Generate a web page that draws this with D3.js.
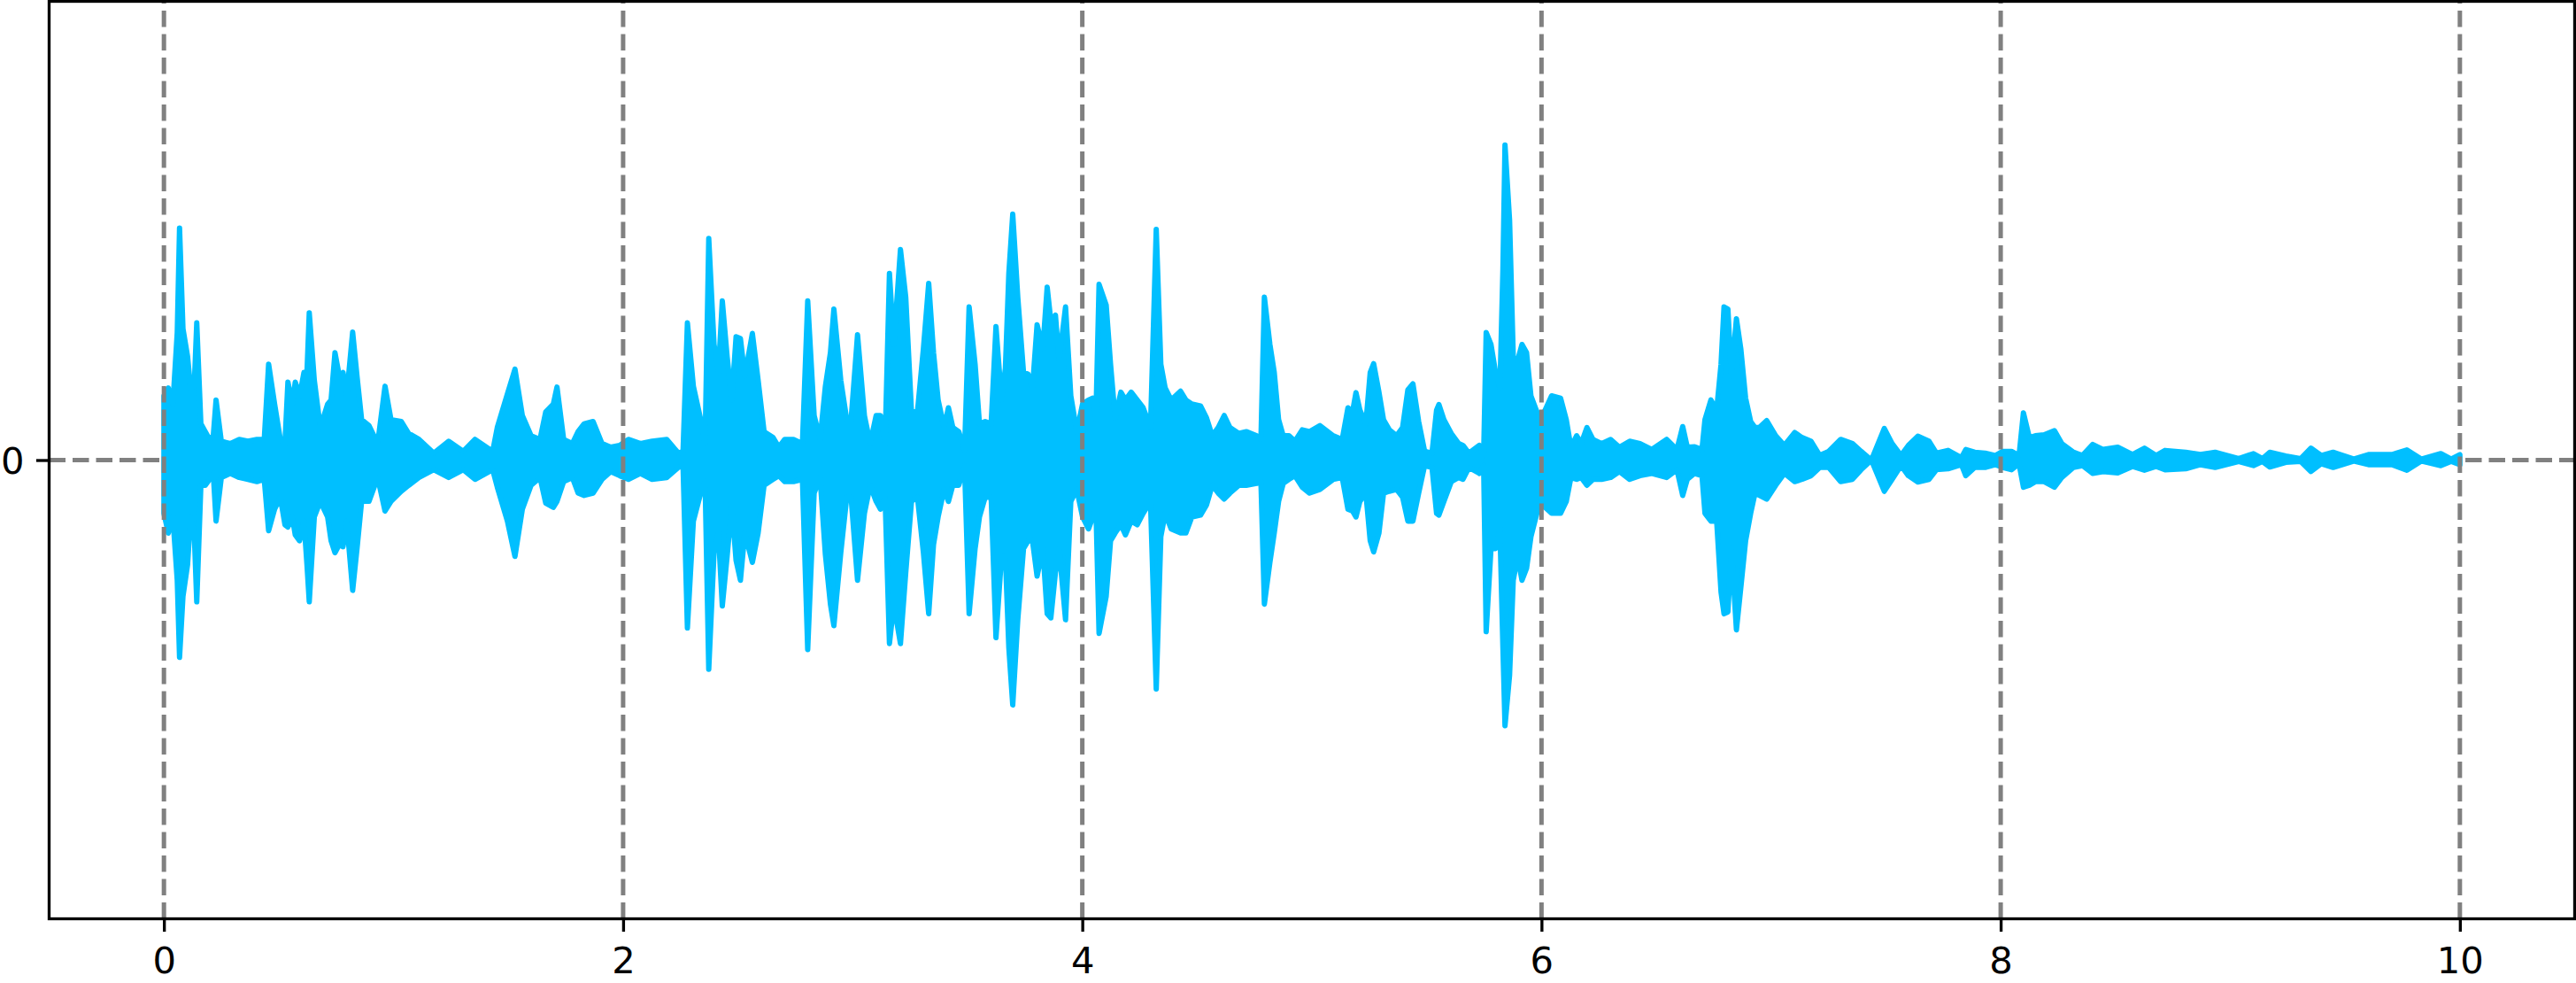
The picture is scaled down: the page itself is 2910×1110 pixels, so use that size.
<!DOCTYPE html>
<html>
<head>
<meta charset="utf-8">
<script src="https://cdn.jsdelivr.net/npm/d3@7"></script>
<style>
  html, body { margin: 0; padding: 0; background: #fff; }
  svg { display: block; }
</style>
</head>
<body>
<svg id="chart" width="2910" height="1110"></svg>
<script>
// ---- DATA ----
// time in seconds, upper / lower envelope of the waveform (normalised amplitude)
const time = [
0.000,0.019,0.039,0.058,0.068,0.083,0.103,0.116,0.132,0.143,0.161,0.180,0.199,0.215,0.227,0.250,0.289,0.328,0.366,0.405,
0.437,0.456,0.482,0.507,0.527,0.540,0.559,0.572,0.591,0.610,0.623,0.633,0.655,0.681,0.713,0.728,0.745,0.764,0.780,0.796,
0.822,0.841,0.861,0.893,0.931,0.963,0.989,1.034,1.066,1.111,1.175,1.240,1.304,1.355,1.432,1.452,1.496,1.529,1.561,1.599,
1.638,1.663,1.696,1.712,1.741,1.779,1.804,1.830,1.869,1.908,1.946,1.985,2.023,2.075,2.126,2.190,2.241,2.261,2.280,2.306,
2.338,2.357,2.373,2.396,2.415,2.432,2.453,2.473,2.492,2.511,2.530,2.563,2.588,2.614,2.653,2.678,2.704,2.742,2.781,2.804,
2.832,2.858,2.881,2.903,2.918,2.948,2.974,2.993,3.021,3.051,3.076,3.102,3.121,3.141,3.160,3.179,3.208,3.231,3.256,3.282,
3.308,3.331,3.352,3.372,3.398,3.417,3.436,3.462,3.487,3.507,3.533,3.552,3.577,3.603,3.624,3.648,3.665,3.680,3.697,3.719,
3.744,3.764,3.783,3.803,3.828,3.847,3.863,3.883,3.899,3.927,3.950,3.976,4.001,4.027,4.046,4.059,4.073,4.104,4.123,4.143,
4.168,4.188,4.213,4.239,4.265,4.297,4.322,4.342,4.361,4.387,4.428,4.451,4.477,4.515,4.541,4.566,4.592,4.618,4.643,4.682,
4.714,4.759,4.778,4.793,4.817,4.836,4.855,4.875,4.900,4.926,4.958,4.990,5.035,5.093,5.132,5.157,5.177,5.192,5.209,5.235,
5.254,5.269,5.292,5.312,5.337,5.369,5.395,5.418,5.440,5.465,5.491,5.523,5.543,5.553,5.575,5.607,5.639,5.658,5.684,5.729,
5.748,5.759,5.780,5.800,5.819,5.832,5.841,5.861,5.877,5.896,5.915,5.935,5.954,5.980,6.005,6.044,6.083,6.108,6.128,6.153,
6.173,6.198,6.224,6.262,6.301,6.339,6.384,6.429,6.481,6.545,6.590,6.615,6.635,6.667,6.699,6.712,6.738,6.763,6.782,6.795,
6.812,6.827,6.849,6.868,6.889,6.911,6.930,6.949,6.981,7.020,7.058,7.103,7.135,7.174,7.212,7.251,7.303,7.354,7.392,7.437,
7.493,7.527,7.566,7.598,7.639,7.688,7.720,7.771,7.829,7.848,7.887,7.932,7.977,8.009,8.047,8.080,8.099,8.125,8.151,8.189,
8.234,8.266,8.317,8.356,8.401,8.446,8.510,8.574,8.626,8.677,8.716,8.806,8.870,8.934,9.037,9.101,9.140,9.172,9.242,9.307,
9.351,9.396,9.448,9.538,9.602,9.704,9.769,9.833,9.917,9.962,10.000
];
const upper = [
0.140,0.157,0.122,0.278,0.506,0.286,0.226,0.157,0.161,0.299,0.079,0.062,0.045,0.053,0.131,0.041,0.036,0.045,0.041,0.045,
0.045,0.209,0.122,0.045,0.036,0.170,0.122,0.170,0.140,0.191,0.191,0.321,0.174,0.071,0.122,0.131,0.234,0.183,0.191,0.140,
0.279,0.183,0.088,0.075,0.036,0.161,0.088,0.084,0.058,0.045,0.015,0.041,0.019,0.045,0.019,0.071,0.144,0.198,0.097,0.053,
0.045,0.105,0.122,0.159,0.045,0.036,0.062,0.079,0.084,0.036,0.028,0.032,0.045,0.036,0.041,0.045,0.015,0.019,0.299,0.161,
0.088,0.036,0.483,0.252,0.191,0.347,0.226,0.131,0.269,0.265,0.183,0.276,0.174,0.062,0.049,0.028,0.045,0.045,0.036,0.347,
0.097,0.045,0.161,0.234,0.329,0.174,0.088,0.088,0.273,0.097,0.036,0.097,0.097,0.036,0.407,0.252,0.459,0.355,0.105,0.105,
0.243,0.385,0.234,0.131,0.071,0.114,0.071,0.062,0.019,0.334,0.209,0.079,0.084,0.079,0.291,0.131,0.200,0.407,0.536,0.355,
0.191,0.187,0.157,0.295,0.243,0.377,0.303,0.316,0.217,0.334,0.140,0.062,0.122,0.131,0.135,0.088,0.383,0.338,0.209,0.092,
0.148,0.131,0.148,0.131,0.114,0.071,0.503,0.209,0.157,0.131,0.150,0.131,0.122,0.118,0.092,0.053,0.071,0.097,0.071,0.058,
0.062,0.053,0.045,0.355,0.252,0.191,0.088,0.053,0.053,0.041,0.066,0.062,0.075,0.053,0.045,0.114,0.105,0.147,0.109,0.079,
0.191,0.210,0.148,0.088,0.066,0.053,0.071,0.153,0.166,0.084,0.019,0.015,0.109,0.121,0.088,0.058,0.036,0.032,0.015,0.032,
0.010,0.278,0.252,0.191,0.157,0.416,0.687,0.523,0.226,0.217,0.252,0.234,0.140,0.105,0.097,0.140,0.135,0.088,0.028,0.053,
0.036,0.071,0.045,0.036,0.045,0.028,0.041,0.036,0.023,0.045,0.023,0.073,0.028,0.029,0.023,0.088,0.131,0.109,0.209,0.334,
0.329,0.183,0.308,0.243,0.135,0.084,0.071,0.071,0.086,0.053,0.032,0.060,0.049,0.041,0.010,0.019,0.045,0.036,0.019,0.000,
0.069,0.036,0.010,0.032,0.052,0.041,0.015,0.021,0.005,0.023,0.017,0.015,0.010,0.019,0.019,0.010,0.103,0.049,0.053,0.055,
0.064,0.036,0.017,0.010,0.034,0.023,0.028,0.012,0.026,0.010,0.021,0.017,0.012,0.017,0.003,0.014,0.003,0.017,0.009,0.003,
0.026,0.010,0.017,0.002,0.012,0.012,0.022,0.002,0.014,0.002,0.012
];
const lower = [
-0.116,-0.159,-0.124,-0.262,-0.430,-0.297,-0.228,-0.124,-0.159,-0.309,-0.055,-0.055,-0.042,-0.029,-0.133,-0.038,-0.029,-0.038,-0.042,-0.047,
-0.042,-0.154,-0.107,-0.081,-0.141,-0.146,-0.124,-0.163,-0.176,-0.133,-0.228,-0.309,-0.124,-0.090,-0.124,-0.176,-0.202,-0.184,-0.189,-0.133,
-0.284,-0.193,-0.090,-0.090,-0.038,-0.111,-0.090,-0.068,-0.055,-0.038,-0.021,-0.038,-0.021,-0.042,-0.021,-0.059,-0.133,-0.210,-0.107,-0.055,
-0.038,-0.094,-0.103,-0.090,-0.047,-0.038,-0.072,-0.077,-0.072,-0.042,-0.025,-0.034,-0.042,-0.029,-0.042,-0.038,-0.016,-0.012,-0.366,-0.133,
-0.072,-0.047,-0.456,-0.202,-0.159,-0.318,-0.210,-0.098,-0.219,-0.262,-0.159,-0.223,-0.159,-0.055,-0.042,-0.034,-0.047,-0.047,-0.042,-0.413,
-0.072,-0.038,-0.206,-0.314,-0.361,-0.202,-0.081,-0.081,-0.262,-0.116,-0.055,-0.090,-0.107,-0.081,-0.400,-0.314,-0.400,-0.245,-0.090,-0.081,
-0.202,-0.335,-0.184,-0.124,-0.064,-0.090,-0.055,-0.055,-0.012,-0.335,-0.193,-0.124,-0.081,-0.081,-0.387,-0.210,-0.210,-0.409,-0.534,-0.348,
-0.193,-0.176,-0.176,-0.253,-0.193,-0.335,-0.344,-0.245,-0.193,-0.348,-0.090,-0.064,-0.124,-0.150,-0.124,-0.098,-0.378,-0.297,-0.176,-0.159,
-0.141,-0.163,-0.133,-0.141,-0.116,-0.090,-0.499,-0.167,-0.116,-0.150,-0.159,-0.159,-0.124,-0.120,-0.098,-0.055,-0.072,-0.085,-0.072,-0.055,
-0.055,-0.051,-0.047,-0.314,-0.223,-0.159,-0.090,-0.051,-0.042,-0.034,-0.059,-0.072,-0.064,-0.042,-0.038,-0.107,-0.111,-0.124,-0.090,-0.072,
-0.176,-0.200,-0.159,-0.072,-0.068,-0.064,-0.081,-0.133,-0.133,-0.072,-0.012,-0.016,-0.116,-0.120,-0.090,-0.047,-0.038,-0.042,-0.016,-0.029,
-0.012,-0.374,-0.193,-0.193,-0.150,-0.409,-0.579,-0.469,-0.262,-0.210,-0.262,-0.236,-0.167,-0.116,-0.098,-0.116,-0.116,-0.090,-0.038,-0.042,
-0.038,-0.055,-0.042,-0.042,-0.038,-0.025,-0.042,-0.034,-0.029,-0.038,-0.021,-0.077,-0.042,-0.029,-0.034,-0.116,-0.133,-0.133,-0.288,-0.335,
-0.331,-0.193,-0.370,-0.279,-0.176,-0.116,-0.072,-0.077,-0.085,-0.055,-0.029,-0.047,-0.042,-0.034,-0.016,-0.016,-0.047,-0.042,-0.021,0.000,
-0.068,-0.042,-0.012,-0.034,-0.048,-0.042,-0.021,-0.019,-0.010,-0.034,-0.016,-0.016,-0.010,-0.016,-0.021,-0.008,-0.059,-0.055,-0.047,-0.047,
-0.059,-0.038,-0.016,-0.012,-0.029,-0.025,-0.028,-0.014,-0.022,-0.014,-0.021,-0.019,-0.010,-0.016,-0.003,-0.012,-0.003,-0.015,-0.005,-0.003,
-0.025,-0.008,-0.016,-0.002,-0.010,-0.010,-0.022,-0.002,-0.012,-0.003,-0.010
];
const xTicks = [0, 2, 4, 6, 8, 10];
const xTickLabels = ["0", "2", "4", "6", "8", "10"];
const yTicks = [0];
const yTickLabels = ["0"];
const xDomain = [-0.5, 10.5];
const yDomain = [-1, 1];

// ---- LAYOUT ----
const W = 2910, H = 1110;
const pL = 55.5, pR = 2908.5, pT = 1.5, pB = 1037.5;
const FONT = "'DejaVu Sans', sans-serif";
const FS = 41.67;
const tickLen = 14.6;
const waveColor = "#00BFFF";
const gridColor = "#808080";

const svg = d3.select("#chart");
svg.append("rect").attr("width", W).attr("height", H).attr("fill", "#fff");

const x = d3.scaleLinear().domain(xDomain).range([pL, pR]);
const y = d3.scaleLinear().domain(yDomain).range([pB, pT]);

const data = time.map((t, i) => ({ t, up: upper[i], lo: lower[i] }));

const plot = svg.append("g");
plot.append("clipPath").attr("id", "clip")
  .append("rect").attr("x", pL).attr("y", pT).attr("width", pR - pL).attr("height", pB - pT);

// horizontal zero line (below the waveform)
plot.append("line")
  .attr("x1", pL).attr("x2", pR)
  .attr("y1", y(0)).attr("y2", y(0))
  .attr("stroke", gridColor).attr("stroke-width", 5)
  .attr("stroke-dasharray", "18.5,8");

// waveform envelope
const area = d3.area()
  .x(d => x(d.t))
  .y0(d => y(d.lo))
  .y1(d => y(d.up));

plot.append("path")
  .datum(data)
  .attr("clip-path", "url(#clip)")
  .attr("d", area)
  .attr("fill", waveColor)
  .attr("stroke", waveColor)
  .attr("stroke-width", 6)
  .attr("stroke-linejoin", "round");

// vertical dashed lines (above the waveform), drawn bottom-to-top
plot.selectAll(".vline").data(xTicks).enter().append("line")
  .attr("class", "vline")
  .attr("x1", d => x(d)).attr("x2", d => x(d))
  .attr("y1", pB).attr("y2", pT)
  .attr("stroke", gridColor).attr("stroke-width", 5)
  .attr("stroke-dasharray", "18.5,8");

// axes
const xAxis = d3.axisBottom(x).tickValues(xTicks)
  .tickFormat((d, i) => xTickLabels[i]).tickSize(tickLen).tickPadding(17.8);
const gx = svg.append("g").attr("transform", `translate(0,${pB})`).call(xAxis);
gx.select(".domain").remove();
gx.selectAll(".tick line").attr("stroke", "#000").attr("stroke-width", 3.33);
gx.selectAll(".tick text").attr("fill", "#000").attr("font-family", FONT).attr("font-size", FS);

const yAxis = d3.axisLeft(y).tickValues(yTicks)
  .tickFormat((d, i) => yTickLabels[i]).tickSize(tickLen).tickPadding(13.4);
const gy = svg.append("g").attr("transform", `translate(${pL},0)`).call(yAxis);
gy.select(".domain").remove();
gy.selectAll(".tick line").attr("stroke", "#000").attr("stroke-width", 3.33);
gy.selectAll(".tick text").attr("fill", "#000").attr("font-family", FONT).attr("font-size", FS).attr("dy", "0.37em");

// spines
svg.append("rect")
  .attr("x", pL).attr("y", pT)
  .attr("width", pR - pL).attr("height", pB - pT)
  .attr("fill", "none").attr("stroke", "#000").attr("stroke-width", 3.33);
</script>
</body>
</html>
